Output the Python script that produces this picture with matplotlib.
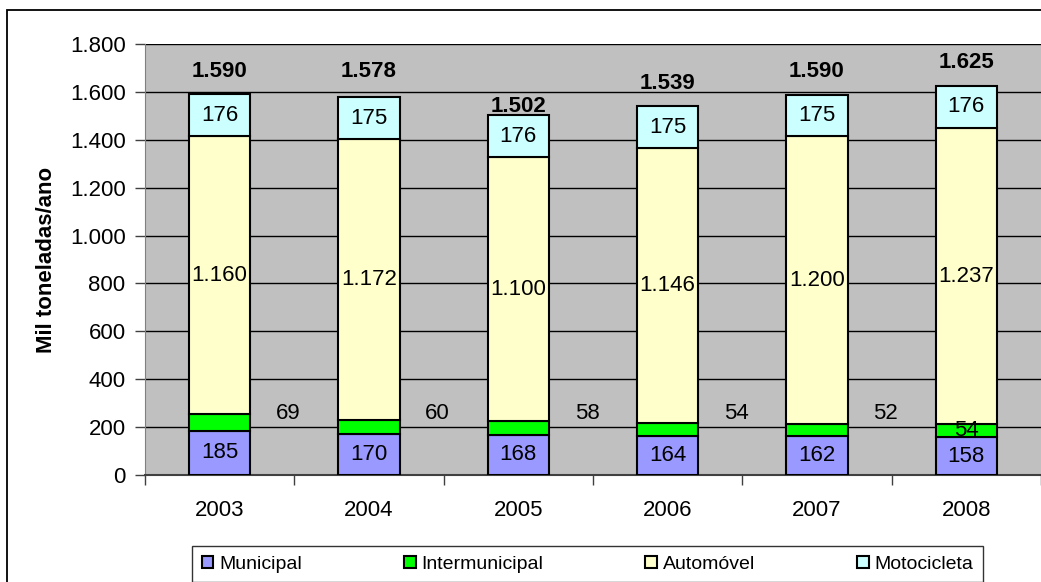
import matplotlib
matplotlib.use('Agg')
import matplotlib.pyplot as plt
from matplotlib.patches import Rectangle
from matplotlib.ticker import FuncFormatter, MultipleLocator
import numpy as np

plt.rcParams['font.family'] = ['Liberation Sans', 'DejaVu Sans']
plt.rcParams['font.size'] = 16

# Data (mil toneladas/ano)
anos = ['2003', '2004', '2005', '2006', '2007', '2008']
municipal = [185, 170, 168, 164, 162, 158]
intermunicipal = [69, 60, 58, 54, 52, 54]
automovel = [1160, 1172, 1100, 1146, 1200, 1237]
motocicleta = [176, 175, 176, 175, 175, 176]
totais = [1590, 1578, 1502, 1539, 1590, 1625]

series = [
    ('Municipal', municipal, '#9999FF'),
    ('Intermunicipal', intermunicipal, '#00FF00'),
    ('Automóvel', automovel, '#FFFFCC'),
    ('Motocicleta', motocicleta, '#CCFFFF'),
]

# label placement tweaks (as dragged in the original)
total_offset = [97, 109, 35, 98, 97, 96]

def fmt_pt(v):
    return f'{int(round(v)):,}'.replace(',', '.')

fig = plt.figure(figsize=(10.41, 5.82), dpi=100)
ax = fig.add_axes([145 / 1041, 1 - 475 / 582, 896 / 1041, 431 / 582])
ax.set_facecolor('#C0C0C0')

x = np.arange(len(anos))
width = 0.41
bottom = np.zeros(len(anos))
handles = []
for name, vals, color in series:
    vals = np.array(vals)
    b = ax.bar(x, vals, width, bottom=bottom, color=color, edgecolor='black',
               linewidth=1.5, label=name, zorder=3)
    handles.append(b)
    for i, v in enumerate(vals):
        if name == 'Intermunicipal':
            if i == len(anos) - 1:
                ax.text(x[i], bottom[i] + v / 2, str(v), ha='center', va='center', zorder=4)
            else:
                ax.text(x[i] + 0.46, 255, str(v), ha='center', va='center', zorder=4)
        else:
            ax.text(x[i], bottom[i] + v / 2, fmt_pt(v), ha='center', va='center', zorder=4)
    bottom = bottom + vals

for i, t in enumerate(totais):
    ax.text(x[i], t + total_offset[i], fmt_pt(t), ha='center', va='center',
            fontweight='bold', zorder=4)

ax.set_xlim(-0.5, len(anos) - 0.5)
ax.set_ylim(0, 1800)
ax.yaxis.set_major_locator(MultipleLocator(200))
ax.yaxis.set_major_formatter(FuncFormatter(lambda v, p: fmt_pt(v)))
ax.grid(axis='y', color='black', linewidth=1, zorder=1)
ax.set_axisbelow(True)

ax.set_xticks(x)
ax.set_xticklabels(anos)
ax.set_xticks(np.arange(-0.5, len(anos)), minor=True)
ax.tick_params(axis='x', which='major', length=0, pad=18)
ax.tick_params(axis='x', which='minor', length=7, width=1, color='#404040')
ax.tick_params(axis='y', length=7, width=1, color='#404040', pad=7)

for s in ['top', 'right']:
    ax.spines[s].set_visible(False)
ax.spines['left'].set_color('#808080')
ax.spines['bottom'].set_color('#404040')
ax.spines['bottom'].set_linewidth(1.5)

ax.set_ylabel('Mil toneladas/ano', fontweight='bold', labelpad=9)

leg = fig.legend(handles=handles, labels=[s[0] for s in series], loc='upper left',
                 bbox_to_anchor=(192 / 1041, 1 - 546 / 582, (983 - 192) / 1041, 0.0),
                 mode='expand', ncol=4, fontsize=14, frameon=True, fancybox=False,
                 edgecolor='black', handlelength=0.6, handleheight=0.6,
                 handletextpad=0.3, borderpad=0.5, borderaxespad=0)
leg.get_frame().set_linewidth(1)

# outer chart border
fig.add_artist(Rectangle((7 / 1041, -0.1), 1.5, 1 - 10 / 582 + 0.1,
                         transform=fig.transFigure, fill=False,
                         edgecolor='black', linewidth=1.3))

fig.savefig('out.png', dpi=100)
